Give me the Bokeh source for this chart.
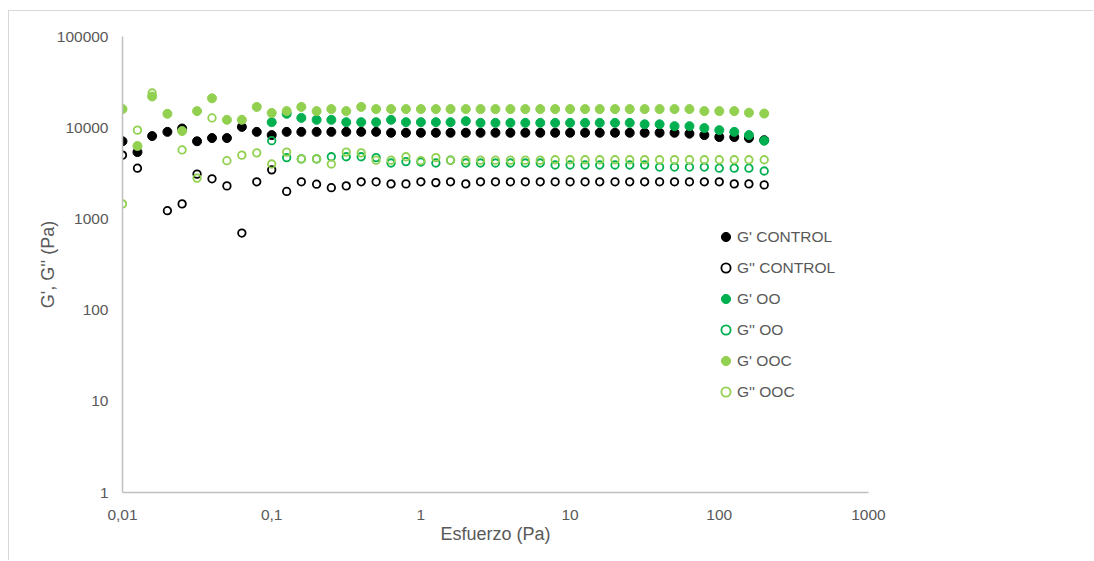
import numpy as np
from bokeh.plotting import figure
from bokeh.models import ColumnDataSource, Legend, LegendItem, FixedTicker
from bokeh.embed import file_html
from bokeh.resources import INLINE

nan = np.nan

esfuerzo = [0.01, 0.0126, 0.0158, 0.02, 0.0251, 0.0316, 0.0398, 0.0501, 0.0631, 0.0794,
            0.1, 0.126, 0.158, 0.2, 0.251, 0.316, 0.398, 0.501, 0.631, 0.794,
            1, 1.26, 1.58, 2, 2.51, 3.16, 3.98, 5.01, 6.31, 7.94,
            10, 12.6, 15.8, 20, 25.1, 31.6, 39.8, 50.1, 63.1, 79.4,
            100, 126, 158, 200]

gp_control = [7100, 5400, 8100, 9000, 9800, 7100, 7700, 7700, 10200, 9000,
              8300, 9000, 9000, 9000, 9000, 9000, 9000, 9000, 8800, 8800,
              8800, 8800, 8800, 8800, 8800, 8800, 8800, 8800, 8800, 8800,
              8800, 8800, 8800, 8800, 8800, 8800, 8800, 8800, 8600, 8300,
              7900, 7900, 7700, 7300]

gpp_control = [5000, 3600, nan, 1230, 1460, 3100, 2750, 2300, 700, 2550,
               3450, 2000, 2550, 2400, 2200, 2300, 2550, 2550, 2420, 2420,
               2550, 2500, 2550, 2420, 2550, 2550, 2550, 2550, 2550, 2550,
               2550, 2550, 2550, 2550, 2550, 2550, 2550, 2550, 2550, 2550,
               2550, 2420, 2420, 2360]

gp_oo = [nan, nan, nan, nan, nan, nan, nan, nan, nan, nan,
         11500, 14200, 12800, 12200, 12200, 11500, 11500, 11500, 12200, 11500,
         11500, 11500, 11500, 11800, 11300, 11300, 11300, 11300, 11300, 11300,
         11300, 11300, 11300, 11300, 11300, 10900, 10900, 10400, 10400, 9900,
         9400, 9000, 8300, 7200]

gpp_oo = [nan, nan, nan, nan, nan, nan, nan, nan, nan, nan,
          7200, 4700, 4550, 4550, 4800, 4800, 4800, 4700, 4100, 4250,
          4200, 4100, 4400, 4100, 4100, 4100, 4100, 4100, 4100, 3900,
          3900, 3900, 3900, 3900, 3900, 3900, 3700, 3700, 3700, 3700,
          3600, 3600, 3600, 3350]

gp_ooc = [16000, 6300, 22000, 14200, 9200, 15200, 21000, 12200, 12200, 16900,
          14500, 15200, 16900, 15200, 16000, 15200, 16900, 16000, 16000, 16000,
          16000, 16000, 16000, 16000, 16000, 16000, 16000, 16000, 16000, 16000,
          16000, 16000, 16000, 16000, 16000, 16000, 16000, 16000, 16000, 15200,
          15200, 15200, 14600, 14300]

gpp_ooc = [1460, 9400, 24000, nan, 5700, 2800, 12800, 4350, 5000, 5300,
           4000, 5400, 4550, 4550, 4000, 5400, 5300, 4400, 4400, 4800,
           4350, 4700, 4400, 4400, 4400, 4400, 4400, 4400, 4400, 4450,
           4450, 4450, 4450, 4450, 4450, 4450, 4450, 4450, 4450, 4450,
           4450, 4450, 4450, 4450]

series_names = ["G' CONTROL", "G'' CONTROL", "G' OO", "G'' OO", "G' OOC", "G'' OOC"]
series_values = [gp_control, gpp_control, gp_oo, gpp_oo, gp_ooc, gpp_ooc]
series_colors = ["#000000", "#000000", "#00B050", "#00B050", "#92D050", "#92D050"]
series_filled = [True, False, True, False, True, False]

x_ticks = [0.01, 0.1, 1, 10, 100, 1000]
x_tick_labels = ["0,01", "0,1", "1", "10", "100", "1000"]
y_ticks = [1, 10, 100, 1000, 10000, 100000]
y_tick_labels = ["1", "10", "100", "1000", "10000", "100000"]

FONT = "Liberation Sans"
TXT = "#595959"

p = figure(width=1085, height=550, x_axis_type="log", y_axis_type="log",
           x_range=(0.01, 1000), y_range=(1, 100000),
           output_backend="svg", toolbar_location=None,
           min_border_left=113, min_border_right=226,
           min_border_top=25, min_border_bottom=69)
p.styles = {"margin-left": "8px", "margin-top": "10px",
            "border-left": "1px solid #D9D9D9", "border-top": "1px solid #D9D9D9"}
p.outline_line_color = None
p.xgrid.visible = False
p.ygrid.visible = False

for ax, ticks, labels in ((p.xaxis[0], x_ticks, x_tick_labels), (p.yaxis[0], y_ticks, y_tick_labels)):
    ax.ticker = FixedTicker(ticks=ticks, minor_ticks=[])
    ax.major_label_overrides = {t: l for t, l in zip(ticks, labels)}
    ax.axis_line_color = "#BFBFBF"
    ax.axis_line_width = 1.5
    ax.major_tick_line_color = None
    ax.minor_tick_line_color = None
    ax.major_label_text_font = FONT
    ax.major_label_text_font_size = "15.5px"
    ax.major_label_text_color = TXT
    ax.axis_label_text_font = FONT
    ax.axis_label_text_font_size = "18px"
    ax.axis_label_text_font_style = "normal"
    ax.axis_label_text_color = TXT

p.xaxis.axis_label = "Esfuerzo (Pa)"
p.yaxis.axis_label = "G', G'' (Pa)"
p.xaxis.major_label_standoff = 11
p.xaxis.axis_label_standoff = 1
p.yaxis.major_label_standoff = 8
p.yaxis.axis_label_standoff = -4

items = []
for name, vals, col, filled in zip(series_names, series_values, series_colors, series_filled):
    src = ColumnDataSource(dict(x=esfuerzo, y=vals))
    if filled:
        r = p.scatter("x", "y", source=src, marker="circle", size=9,
                      fill_color=col, line_color=col, line_width=1)
    else:
        r = p.scatter("x", "y", source=src, marker="circle", size=7.5,
                      fill_color=None, line_color=col, line_width=1.8)
    items.append(LegendItem(label=name, renderers=[r]))

legend = Legend(items=items, location=(592, 89), orientation="vertical",
                background_fill_alpha=0, border_line_color=None,
                padding=0, margin=0, spacing=8,
                glyph_width=23, glyph_height=23, label_height=23,
                label_standoff=0,
                label_text_font=FONT, label_text_font_size="15.5px",
                label_text_color=TXT)
p.add_layout(legend, "center")

open("out.html", "w").write(file_html(p, INLINE))
